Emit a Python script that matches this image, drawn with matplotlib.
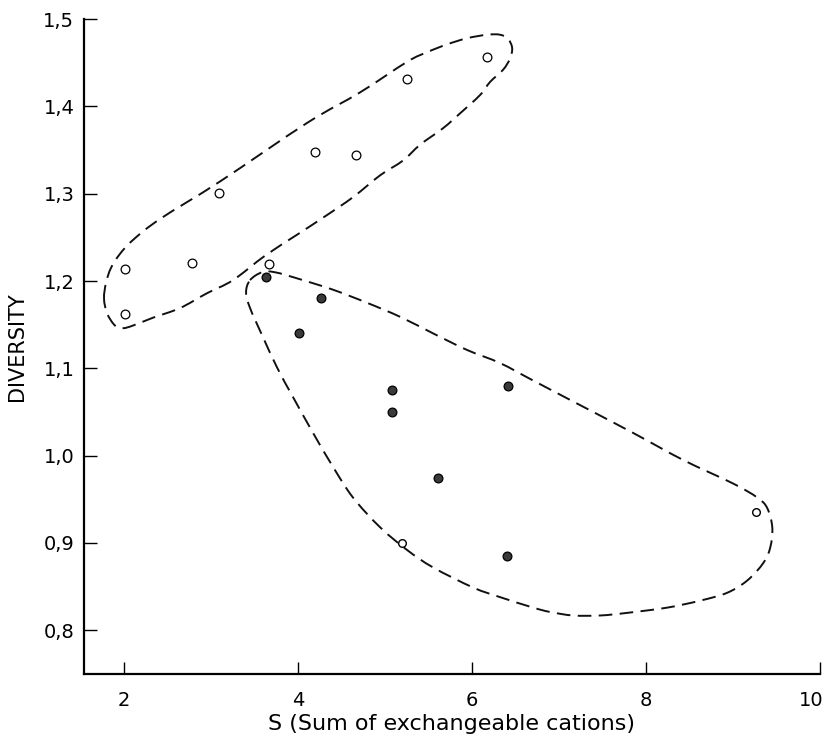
import matplotlib
matplotlib.use('Agg')
import matplotlib.pyplot as plt
from matplotlib.path import Path
from matplotlib.patches import PathPatch
from matplotlib.transforms import ScaledTranslation

plt.rcParams['font.family'] = ['DejaVu Sans']

# open circles (upper group)
open_x = [2.02, 2.02, 2.78, 3.10, 3.67, 4.20, 4.67, 5.26, 6.17]
open_y = [1.214, 1.162, 1.221, 1.301, 1.219, 1.348, 1.344, 1.431, 1.457]

# filled circles (lower group)
fill_x = [3.63, 4.27, 4.01, 5.08, 5.08, 6.42, 5.61, 6.40]
fill_y = [1.205, 1.181, 1.141, 1.075, 1.050, 1.080, 0.974, 0.885]

# small half-open ones on the lower outline
half_x = [5.20, 9.26]
half_y = [0.900, 0.936]

# hand drawn enclosures
upper_x = [1.774, 1.797, 1.854, 1.957, 2.107, 2.417, 3.107, 4.107, 4.716, 5.256,
           5.486, 5.716, 5.946, 6.175, 6.325, 6.417, 6.463, 6.440, 6.360, 6.210,
           6.095, 5.865, 5.670, 5.405, 5.210, 4.946, 4.635, 4.313, 3.992, 3.624,
           3.256, 2.957, 2.647, 2.337, 2.107, 1.992, 1.900, 1.809]
upper_y = [1.180, 1.198, 1.215, 1.231, 1.247, 1.271, 1.314, 1.381, 1.416, 1.451,
           1.462, 1.471, 1.478, 1.482, 1.482, 1.477, 1.467, 1.455, 1.442, 1.428,
           1.413, 1.392, 1.375, 1.356, 1.338, 1.321, 1.296, 1.274, 1.253, 1.229,
           1.201, 1.186, 1.169, 1.158, 1.149, 1.146, 1.149, 1.163]

lower_x = [3.452, 3.590, 3.739, 4.026, 4.406, 4.797, 5.176, 5.555, 5.946, 6.325,
           6.705, 7.280, 7.854, 8.429, 9.004, 9.280, 9.394, 9.452, 9.429, 9.348,
           9.164, 8.934, 8.624, 8.245, 7.785, 7.475, 7.164, 6.900, 6.705, 6.325,
           6.015, 5.555, 5.256, 4.946, 4.635, 4.406, 4.176, 3.946, 3.762, 3.590,
           3.452, 3.406]
lower_y = [1.201, 1.210, 1.210, 1.202, 1.190, 1.175, 1.159, 1.140, 1.121, 1.106,
           1.086, 1.056, 1.026, 0.995, 0.968, 0.952, 0.940, 0.918, 0.895, 0.877,
           0.857, 0.843, 0.834, 0.826, 0.820, 0.817, 0.817, 0.821, 0.826, 0.838,
           0.849, 0.872, 0.892, 0.918, 0.952, 0.987, 1.026, 1.067, 1.101, 1.138,
           1.169, 1.187]

x_ticks = [2, 4, 6, 8, 10]
y_ticks = [0.8, 0.9, 1.0, 1.1, 1.2, 1.3, 1.4, 1.5]
y_labels = ['0,8', '0,9', '1,0', '1,1', '1,2', '1,3', '1,4', '1,5']


def closed_curve(xs, ys):
    # closed catmull-rom turned into cubic bezier segments
    n = len(xs)
    verts = [(xs[0], ys[0])]
    codes = [Path.MOVETO]
    for i in range(n):
        p0 = (xs[i - 1], ys[i - 1])
        p1 = (xs[i], ys[i])
        p2 = (xs[(i + 1) % n], ys[(i + 1) % n])
        p3 = (xs[(i + 2) % n], ys[(i + 2) % n])
        c1 = (p1[0] + (p2[0] - p0[0]) / 6, p1[1] + (p2[1] - p0[1]) / 6)
        c2 = (p2[0] - (p3[0] - p1[0]) / 6, p2[1] - (p3[1] - p1[1]) / 6)
        verts += [c1, c2, p2]
        codes += [Path.CURVE4] * 3
    return Path(verts, codes)


fig = plt.figure(figsize=(8.26, 7.4), dpi=100)
ax = fig.add_axes([0.1017, 0.0892, 0.891, 0.8851])

for xs, ys in [(upper_x, upper_y), (lower_x, lower_y)]:
    ax.add_patch(PathPatch(closed_curve(xs, ys), fill=False, edgecolor='#111111',
                           lw=1.4, linestyle=(0, (7, 3.8))))

ax.plot(open_x, open_y, 'o', ms=6.3, mfc='white', mec='black', mew=0.9)
ax.plot(fill_x, fill_y, 'o', ms=6.3, mfc='#3a3a3a', mec='black', mew=0.9)
ax.plot(half_x, half_y, 'o', ms=5.5, mfc='white', mec='black', mew=1.0)

ax.set_xlim(1.544, 10.0)
ax.set_ylim(0.75, 1.5)
ax.spines['top'].set_visible(False)
ax.spines['right'].set_visible(False)
ax.spines['left'].set_linewidth(1.6)
ax.spines['bottom'].set_linewidth(1.6)

ax.set_xticks(x_ticks)
ax.set_yticks(y_ticks)
ax.set_yticklabels(y_labels)
ax.tick_params(axis='y', direction='in', length=9, width=1.0, pad=7, labelsize=14)
ax.tick_params(axis='x', direction='in', length=9, width=1.0, pad=12, labelsize=14)

ax.set_xlabel('S (Sum of exchangeable cations)', fontsize=16, labelpad=3)
ax.set_ylabel('DIVERSITY', fontsize=15, labelpad=12)

# the "10" sits at the very edge, nudge it in a little
fig.canvas.draw()
last = ax.get_xticklabels()[-1]
last.set_transform(last.get_transform() + ScaledTranslation(-6 / 72, 0, fig.dpi_scale_trans))

plt.savefig('out.png', dpi=100)
